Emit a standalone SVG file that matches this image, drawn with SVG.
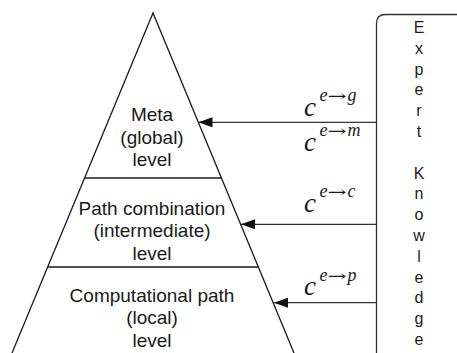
<svg xmlns="http://www.w3.org/2000/svg" width="457" height="353" viewBox="0 0 457 353">
<style>
.edge{fill:none;stroke:#1a1a1a;stroke-width:1.3}
.conn{fill:none;stroke:#333;stroke-width:1.3}
.lbl{font-family:"Liberation Sans",Arial,sans-serif;font-size:19px;fill:#1a1a1a;text-anchor:middle}
.ek{font-family:"Liberation Sans",Arial,sans-serif;font-size:16px;fill:#1a1a1a;text-anchor:middle}
.mc{font-family:"Liberation Serif","DejaVu Serif",serif;font-style:italic;font-size:27px;fill:#1a1a1a}
.ms{font-family:"Liberation Serif","DejaVu Serif",serif;font-style:italic;font-size:18px;fill:#1a1a1a}
.ar{font-family:"DejaVu Serif","Liberation Serif",serif;font-size:15px;fill:#1a1a1a}
</style>
<defs>
<marker id="ah" markerWidth="14" markerHeight="10" refX="14" refY="5" orient="auto" markerUnits="userSpaceOnUse">
<path d="M0,0 L14,5 L0,10 Z" fill="#111"/>
</marker>
</defs>
<g id="pyramid">
<path class="edge" d="M12,353 L153,13 L294,353"/>
</g>
<g id="meta-level">
<text class="lbl" x="152" y="121">Meta</text>
<text class="lbl" x="152" y="143.5">(global)</text>
<text class="lbl" x="152" y="165.7">level</text>
</g>
<g id="path-combination-level">
<line class="edge" x1="84.6" y1="178" x2="221.4" y2="178"/>
<text class="lbl" x="152" y="215">Path combination</text>
<text class="lbl" x="152" y="237.3">(intermediate)</text>
<text class="lbl" x="152" y="259.5">level</text>
</g>
<g id="computational-path-level">
<line class="edge" x1="47.6" y1="267" x2="258.4" y2="267"/>
<text class="lbl" x="152" y="301.7">Computational path</text>
<text class="lbl" x="152" y="324.3">(local)</text>
<text class="lbl" x="152" y="346.7">level</text>
</g>
<g id="expert-knowledge">
<path class="conn" d="M376.5,353 V23.5 Q376.5,14.5 385.5,14.5 H457"/>
<text class="ek" x="419" y="33">E</text>
<text class="ek" x="419" y="53.8">x</text>
<text class="ek" x="419" y="74.6">p</text>
<text class="ek" x="419" y="95.4">e</text>
<text class="ek" x="419" y="116.2">r</text>
<text class="ek" x="419" y="137">t</text>
<text class="ek" x="419" y="178.6">K</text>
<text class="ek" x="419" y="199.4">n</text>
<text class="ek" x="419" y="220.2">o</text>
<text class="ek" x="419" y="241">w</text>
<text class="ek" x="419" y="261.8">l</text>
<text class="ek" x="419" y="282.6">e</text>
<text class="ek" x="419" y="303.4">d</text>
<text class="ek" x="419" y="324.2">g</text>
<text class="ek" x="419" y="345">e</text>
</g>
<g id="connectors">
<line class="conn" x1="376.5" y1="122.3" x2="198.5" y2="122.3" marker-end="url(#ah)"/>
<line class="conn" x1="376.5" y1="224.3" x2="241" y2="224.3" marker-end="url(#ah)"/>
<line class="conn" x1="376.5" y1="302.7" x2="274" y2="302.7" marker-end="url(#ah)"/>
</g>
<g id="label-eg">
<text class="mc" x="304" y="116">c</text>
<text class="ms" x="319.5" y="101">e</text>
<text class="ar" x="327.5" y="101" textLength="19" lengthAdjust="spacingAndGlyphs">→</text>
<text class="ms" x="347.5" y="101">g</text>
</g>
<g id="label-em">
<text class="mc" x="304" y="150.5">c</text>
<text class="ms" x="319.5" y="135.5">e</text>
<text class="ar" x="327.5" y="135.5" textLength="19" lengthAdjust="spacingAndGlyphs">→</text>
<text class="ms" x="347.5" y="135.5">m</text>
</g>
<g id="label-ec">
<text class="mc" x="304" y="211.5">c</text>
<text class="ms" x="319.5" y="197">e</text>
<text class="ar" x="327.5" y="197" textLength="19" lengthAdjust="spacingAndGlyphs">→</text>
<text class="ms" x="347.5" y="197">c</text>
</g>
<g id="label-ep">
<text class="mc" x="304" y="295">c</text>
<text class="ms" x="319.5" y="281">e</text>
<text class="ar" x="327.5" y="281" textLength="19" lengthAdjust="spacingAndGlyphs">→</text>
<text class="ms" x="347.5" y="281">p</text>
</g>
</svg>
